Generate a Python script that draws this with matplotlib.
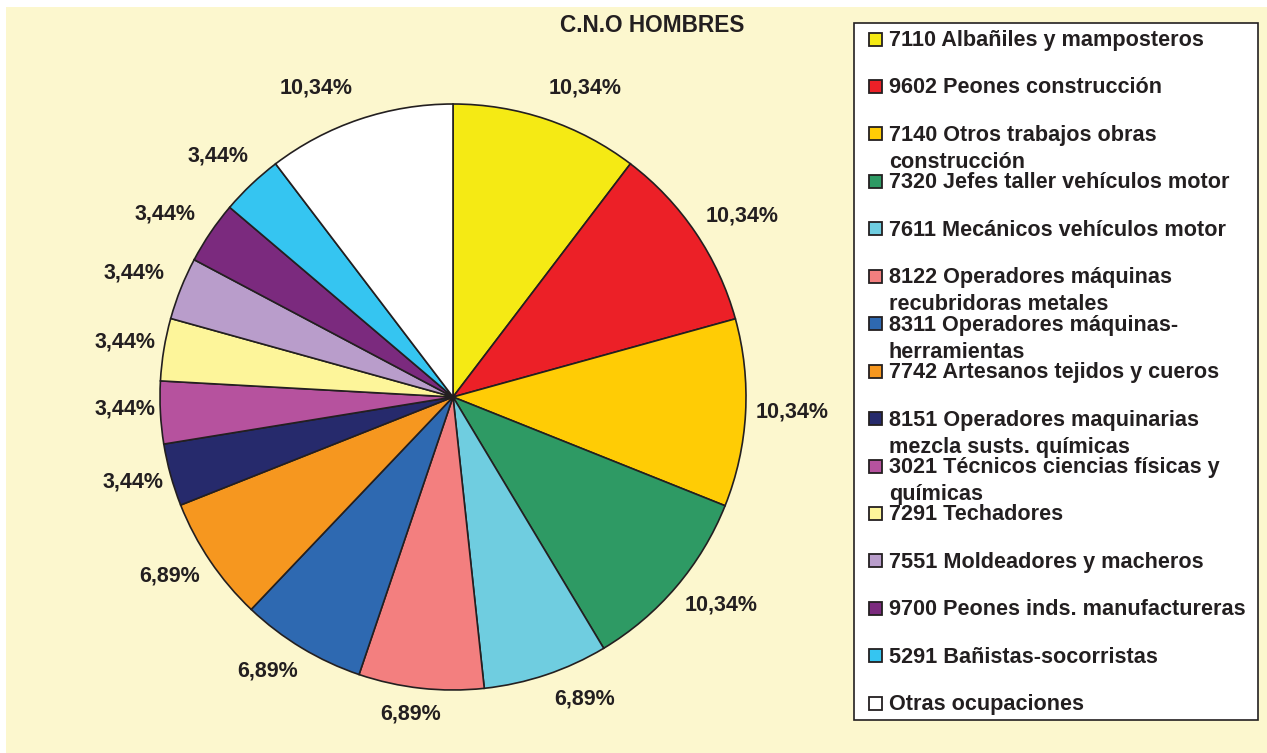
import matplotlib
matplotlib.use("Agg")
import numpy as np
import matplotlib.pyplot as plt
from matplotlib.patches import Rectangle

categories = [
    "7110 Albañiles y mamposteros",
    "9602 Peones construcción",
    "7140 Otros trabajos obras\nconstrucción",
    "7320 Jefes taller vehículos motor",
    "7611 Mecánicos vehículos motor",
    "8122 Operadores máquinas\nrecubridoras metales",
    "8311 Operadores máquinas-\nherramientas",
    "7742 Artesanos tejidos y cueros",
    "8151 Operadores maquinarias\nmezcla susts. químicas",
    "3021 Técnicos ciencias físicas y\nquímicas",
    "7291 Techadores",
    "7551 Moldeadores y macheros",
    "9700 Peones inds. manufactureras",
    "5291 Bañistas-socorristas",
    "Otras ocupaciones",
]
values = [10.34, 10.34, 10.34, 10.34, 6.89, 6.89, 6.89, 6.89,
          3.44, 3.44, 3.44, 3.44, 3.44, 3.44, 10.34]
pct_labels = ["10,34%", "10,34%", "10,34%", "10,34%", "6,89%", "6,89%", "6,89%", "6,89%",
              "3,44%", "3,44%", "3,44%", "3,44%", "3,44%", "3,44%", "10,34%"]
colors = ["#F5EA14", "#EC2027", "#FFCC05", "#2E9A64", "#6FCDE0", "#F37F7F",
          "#2E69B1", "#F6971F", "#262A6C", "#B6529E", "#FDF59A", "#B99DCB",
          "#7B2A7E", "#35C5F1", "#FFFFFF"]
title = "C.N.O HOMBRES"

# layout tweaks for the percentage labels (angular nudge in degrees, radial distance)
label_nudge = [-4.5, -2, 0.7, 2.6, 5, -1.3, -3, -1.8, -0.6, -0.9, -0.1, 0.4, 1.6, 0.8, 5.3]
label_dist = [1.147, 1.164, 1.157, 1.160, 1.123, 1.092, 1.130, 1.143, 1.130, 1.119,
              1.133, 1.167, 1.164, 1.147, 1.154]

font = "Liberation Sans"
txtcol = "#231F20"
bg = "#FCF7CE"

W, H = 1267, 753
fig = plt.figure(figsize=(W / 100, H / 100), dpi=100)
fig.patch.set_facecolor("white")
fig.patches.append(Rectangle((6 / W, 0), 1 - 6 / W, 1 - 7 / H, transform=fig.transFigure,
                             facecolor=bg, edgecolor="none", zorder=-5))

cx, cy, r = 453, 397, 293
ax = fig.add_axes([(cx - r) / W, (H - cy - r) / H, 2 * r / W, 2 * r / H])
ax.set_facecolor("none")
ax.set_zorder(2)
wedges, texts = ax.pie(values, colors=colors, startangle=90, counterclock=False,
                       labels=pct_labels, labeldistance=1.15,
                       wedgeprops=dict(edgecolor="#231F20", linewidth=1.2),
                       textprops=dict(family=font, fontweight="bold",
                                      fontsize=15.5, color=txtcol))
for w, t, nd, d in zip(wedges, texts, label_nudge, label_dist):
    ang = np.deg2rad((w.theta1 + w.theta2) / 2 + nd)
    t.set_position((d * np.cos(ang), d * np.sin(ang)))
    t.set_horizontalalignment("center")
    t.set_verticalalignment("center")
ax.set_xlim(-1, 1)
ax.set_ylim(-1, 1)
ax.set_aspect("equal")

fig.text(652.5 / W, 1 - 26 / H, title, ha="center", va="center", family=font,
         fontweight="bold", fontsize=16.3, color=txtcol)

# legend box
lx0, ly0, lx1, ly1 = 854, 23, 1258, 720
fig.patches.append(Rectangle((lx0 / W, 1 - ly1 / H), (lx1 - lx0) / W, (ly1 - ly0) / H,
                             transform=fig.transFigure, facecolor="white",
                             edgecolor="#231F20", linewidth=1.2, zorder=1))
y0, dy = 39, 47.45
for i, (lab, col) in enumerate(zip(categories, colors)):
    yc = y0 + i * dy
    fig.patches.append(Rectangle((869 / W, 1 - (yc + 6.5) / H), 13 / W, 13 / H,
                                 transform=fig.transFigure, facecolor=col,
                                 edgecolor="#231F20", linewidth=1.3, zorder=2))
    fig.text(889 / W, 1 - (yc - 9) / H, lab, ha="left", va="top",
             fontfamily=font, fontweight="bold", fontsize=15.6,
             color=txtcol, linespacing=1.38, zorder=3)

fig.savefig("out.png", dpi=100, facecolor=fig.get_facecolor())
